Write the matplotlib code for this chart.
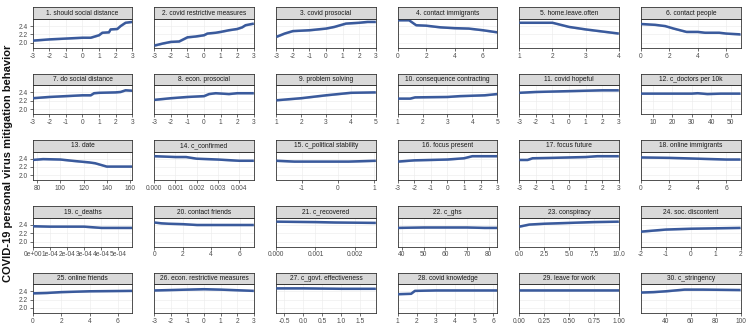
import matplotlib
matplotlib.use("Agg")
import matplotlib.pyplot as plt
import numpy as np

plt.rcParams["axes.unicode_minus"] = False
plt.rcParams["font.family"] = ["Liberation Sans", "DejaVu Sans"]

titles = ["1. should social distance", "2. covid restrictive measures", "3. covid prosocial",
          "4. contact immigrants", "5. home.leave.often", "6. contact people",
          "7. do social distance", "8. econ. prosocial", "9. problem solving",
          "10. consequence contracting", "11. covid hopeful", "12. c_doctors per 10k",
          "13. date", "14. c_confirmed", "15. c_political stability",
          "16. focus present", "17. focus future", "18. online immigrants",
          "19. c_deaths", "20. contact friends", "21. c_recovered",
          "22. c_ghs", "23. conspiracy", "24. soc. discontent",
          "25. online friends", "26. econ. restrictive measures", "27. c_govt. effectiveness",
          "28. covid knowledge", "29. leave for work", "30. c_stringency"]

x01 = [-3, -2, -1, 0, 0.5, 1, 1.2, 1.6, 1.7, 2.1, 2.3, 2.6, 3]
y01 = [2.05, 2.08, 2.10, 2.12, 2.12, 2.18, 2.24, 2.25, 2.32, 2.33, 2.40, 2.48, 2.50]
x02 = [-3, -2.5, -2, -1.5, -1, -0.5, 0, 0.2, 0.7, 1, 1.5, 2, 2.3, 2.5, 3]
y02 = [1.93, 1.98, 2.02, 2.03, 2.13, 2.15, 2.18, 2.22, 2.24, 2.26, 2.30, 2.33, 2.37, 2.42, 2.46]
x03 = [-3, -2.5, -2, -1, 0, 0.5, 1.2, 2, 2.5, 3]
y03 = [2.14, 2.22, 2.28, 2.30, 2.34, 2.38, 2.46, 2.48, 2.50, 2.50]
x04 = [0, 0.8, 1.3, 2, 3, 4, 5, 6, 7]
y04 = [2.54, 2.54, 2.42, 2.41, 2.37, 2.35, 2.34, 2.30, 2.25]
x05 = [1, 2, 2.5, 3, 3.5, 4]
y05 = [2.48, 2.48, 2.38, 2.32, 2.27, 2.22]
x06 = [0, 1, 1.7, 2.3, 3.2, 4, 4.5, 5.5, 6, 7]
y06 = [2.45, 2.43, 2.40, 2.34, 2.26, 2.26, 2.24, 2.24, 2.22, 2.20]
x07 = [-3, -2, -1, 0, 0.5, 0.7, 1, 2, 2.3, 2.6, 3]
y07 = [2.26, 2.29, 2.31, 2.33, 2.33, 2.38, 2.39, 2.40, 2.41, 2.45, 2.44]
x08 = [-3, -2, -1, 0, 0.3, 0.7, 1.5, 2, 3]
y08 = [2.22, 2.26, 2.29, 2.31, 2.36, 2.38, 2.36, 2.38, 2.38]
x09 = [1, 2, 3, 4, 5]
y09 = [2.21, 2.26, 2.33, 2.39, 2.40]
x10 = [1, 1.5, 1.7, 3, 3.5, 4.5, 5]
y10 = [2.25, 2.25, 2.28, 2.29, 2.31, 2.33, 2.36]
x11 = [-3, -2, -1, 0, 1, 2, 3]
y11 = [2.39, 2.41, 2.42, 2.43, 2.44, 2.45, 2.45]
x12 = [4, 20, 30, 33, 38, 45, 55]
y12 = [2.37, 2.37, 2.37, 2.38, 2.36, 2.37, 2.37]
x13 = [76, 85, 100, 110, 125, 130, 140, 162]
y13 = [2.37, 2.39, 2.38, 2.35, 2.31, 2.29, 2.21, 2.21]
x14 = [0, 0.001, 0.0015, 0.002, 0.003, 0.004, 0.0047]
y14 = [2.46, 2.44, 2.44, 2.40, 2.38, 2.35, 2.35]
x15 = [-1.7, -1.2, 0.3, 1.05]
y15 = [2.35, 2.33, 2.33, 2.35]
x16 = [-3, -2, 0, 1, 1.5, 3]
y16 = [2.33, 2.36, 2.38, 2.41, 2.46, 2.46]
x17 = [-3, -2.5, -2.2, -1, 0, 1, 1.7, 3]
y17 = [2.37, 2.37, 2.41, 2.42, 2.43, 2.44, 2.46, 2.46]
x18 = [0, 2, 4, 6, 7]
y18 = [2.43, 2.42, 2.40, 2.38, 2.38]
x19 = [0, 0.0001, 0.0003, 0.0004, 0.00058]
y19 = [2.37, 2.36, 2.36, 2.33, 2.33]
x20 = [0, 0.5, 1, 2, 3, 4, 7]
y20 = [2.46, 2.44, 2.43, 2.42, 2.40, 2.40, 2.40]
x21 = [0, 0.001, 0.0015, 0.00254]
y21 = [2.48, 2.47, 2.46, 2.45]
x22 = [38, 50, 60, 70, 78, 84]
y22 = [2.33, 2.34, 2.34, 2.34, 2.33, 2.33]
x23 = [0, 1, 2.5, 5, 7.5, 10]
y23 = [2.36, 2.41, 2.43, 2.45, 2.47, 2.48]
x24 = [-2, -1, 0, 1, 2]
y24 = [2.24, 2.29, 2.31, 2.32, 2.33]
x25 = [0, 1, 2, 4, 7]
y25 = [2.35, 2.36, 2.38, 2.40, 2.41]
x26 = [-3, -1, 0, 1, 3]
y26 = [2.42, 2.44, 2.45, 2.44, 2.41]
x27 = [-0.7, 0, 1, 1.9]
y27 = [2.47, 2.47, 2.46, 2.46]
x28 = [1, 1.7, 1.9, 3, 6.2]
y28 = [2.33, 2.34, 2.41, 2.42, 2.42]
x29 = [0, 0.5, 1]
y29 = [2.43, 2.43, 2.43]
x30 = [20, 30, 40, 55, 70, 100]
y30 = [2.37, 2.38, 2.40, 2.44, 2.44, 2.43]

xs = [x01, x02, x03, x04, x05, x06, x07, x08, x09, x10, x11, x12, x13, x14, x15,
      x16, x17, x18, x19, x20, x21, x22, x23, x24, x25, x26, x27, x28, x29, x30]
ys = [y01, y02, y03, y04, y05, y06, y07, y08, y09, y10, y11, y12, y13, y14, y15,
      y16, y17, y18, y19, y20, y21, y22, y23, y24, y25, y26, y27, y28, y29, y30]

xticks = [[-3, -2, -1, 0, 1, 2, 3]] * 3 + [[0, 2, 4, 6], [1, 2, 3, 4], [0, 2, 4, 6],
          [-3, -2, -1, 0, 1, 2, 3], [-3, -2, -1, 0, 1, 2, 3], [1, 2, 3, 4, 5], [1, 2, 3, 4, 5],
          [-3, -2, -1, 0, 1, 2, 3], [10, 20, 30, 40, 50],
          [80, 100, 120, 140, 160], [0.000, 0.001, 0.002, 0.003, 0.004], [-1, 0, 1],
          [-3, -2, -1, 0, 1, 2, 3], [-3, -2, -1, 0, 1, 2, 3], [0, 2, 4, 6],
          [0, 1e-4, 2e-4, 3e-4, 4e-4, 5e-4], [0, 2, 4, 6], [0.000, 0.001, 0.002],
          [40, 50, 60, 70, 80], [0.0, 2.5, 5.0, 7.5, 10.0], [-2, -1, 0, 1, 2],
          [0, 2, 4, 6], [-3, -2, -1, 0, 1, 2, 3], [-0.5, 0.0, 0.5, 1.0, 1.5],
          [1, 2, 3, 4, 5, 6], [0.00, 0.25, 0.50, 0.75, 1.00], [40, 60, 80, 100]]

xticklabels = [None] * 30
xticklabels[13] = ["0.000", "0.001", "0.002", "0.003", "0.004"]
xticklabels[18] = ["0e+00", "1e-04", "2e-04", "3e-04", "4e-04", "5e-04"]
xticklabels[20] = ["0.000", "0.001", "0.002"]
xticklabels[22] = ["0.0", "2.5", "5.0", "7.5", "10.0"]
xticklabels[26] = ["-0.5", "0.0", "0.5", "1.0", "1.5"]
xticklabels[28] = ["0.00", "0.25", "0.50", "0.75", "1.00"]

yticks = [2.0, 2.2, 2.4]
ylabel = "COVID-19 personal virus mitigation behavior"

W, H = 747, 327
fig = plt.figure(figsize=(W / 100, H / 100), dpi=100)
fig.patch.set_facecolor("white")

col_left = [32.7, 154.3, 276.3, 397.7, 519.3, 641.0]
col_w = 99.5
row_top = [7.3 + 66.3 * r for r in range(5)]
strip_h = 11.7
ax_h = 28.7

line_col = "#3a5a9c"
band_col = "#a9b9d9"

for i in range(30):
    r, c = divmod(i, 6)
    l = col_left[c]
    top = row_top[r]
    ax = fig.add_axes([l / W, 1 - (top + strip_h + ax_h) / H, col_w / W, ax_h / H])
    sx = fig.add_axes([l / W, 1 - (top + strip_h) / H, col_w / W, strip_h / H])
    sx.set_facecolor("#d9d9d9")
    sx.set_xticks([]); sx.set_yticks([])
    for sp in sx.spines.values():
        sp.set_color("#333333"); sp.set_linewidth(0.6)
    sx.text(0.5, 0.5, titles[i], ha="center", va="center", fontsize=4.8, color="#1a1a1a",
            transform=sx.transAxes)

    x = np.array(xs[i], dtype=float)
    y = np.array(ys[i], dtype=float)
    ax.fill_between(x, y - 0.02, y + 0.02, color=band_col, lw=0, alpha=0.8, zorder=2)
    ax.plot(x, y, color=line_col, lw=1.8, zorder=3, solid_capstyle="butt")
    ax.set_xlim(x.min(), x.max())
    ax.set_ylim(1.88, 2.57)
    ax.set_xticks(xticks[i])
    if xticklabels[i] is not None:
        ax.set_xticklabels(xticklabels[i])
    ax.set_yticks(yticks)
    ax.grid(True, color="#ebebeb", lw=0.4)
    ax.set_axisbelow(True)
    for sp in ax.spines.values():
        sp.set_color("#333333"); sp.set_linewidth(0.6)
    ax.tick_params(axis="both", length=2, width=0.5, color="#333333", labelsize=4.8,
                   labelcolor="#4d4d4d", pad=1.5)
    if c == 0:
        ax.set_yticklabels(["2.0", "2.2", "2.4"])
    else:
        ax.tick_params(axis="y", length=0)
        ax.set_yticklabels([])

fig.text(8 / W, 0.5, ylabel, rotation=90, ha="center", va="center", fontsize=8,
         fontweight="bold", color="#111111")

fig.savefig("out.png", dpi=100)
